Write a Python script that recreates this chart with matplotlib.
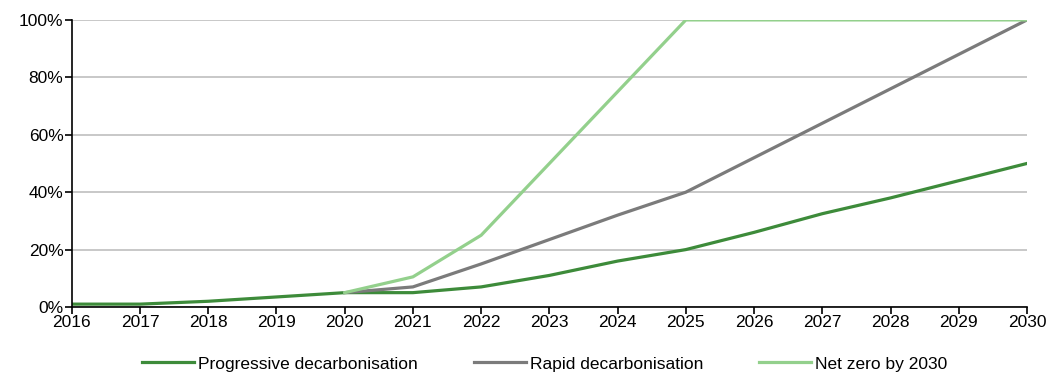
import matplotlib
matplotlib.use('Agg')
import matplotlib.pyplot as plt
from matplotlib import font_manager
from matplotlib.ticker import PercentFormatter

# Узкий шрифт, если есть; иначе обычный
names = {f.name for f in font_manager.fontManager.ttflist}
if 'Liberation Sans Narrow' in names:
    plt.rcParams['font.family'] = ['Liberation Sans Narrow', 'DejaVu Sans']
    fs = 15.5
else:
    plt.rcParams['font.family'] = ['Liberation Sans', 'DejaVu Sans']
    fs = 12.5

# Данные
years = list(range(2016, 2031))
progressive = [1, 1, 2, 3.5, 5, 5, 7, 11, 16, 20, 26, 32.5, 38, 44, 50]
rapid_years = list(range(2020, 2031))
rapid = [5, 7, 15, 23.5, 32, 40, 52, 64, 76, 88, 100]
netzero_years = list(range(2020, 2031))
netzero = [5, 10.5, 25, 50, 75, 100, 100, 100, 100, 100, 100]

labels = ['Progressive decarbonisation', 'Rapid decarbonisation', 'Net zero by 2030']
colors = ['#3D8B3A', '#7B7B7B', '#93D08C']

fig = plt.figure(figsize=(10.56, 3.76), dpi=100)
ax = fig.add_axes([0.068, 0.1835, 0.9045, 0.7635])

ax.plot(years, progressive, color=colors[0], linewidth=2.3, label=labels[0])
ax.plot(rapid_years, rapid, color=colors[1], linewidth=2.3, label=labels[1])
ax.plot(netzero_years, netzero, color=colors[2], linewidth=2.3, label=labels[2])

ax.set_xlim(2016, 2030)
ax.set_ylim(0, 100)
ax.set_xticks(years)
ax.set_yticks(range(0, 101, 20))
ax.yaxis.set_major_formatter(PercentFormatter(decimals=0))
ax.grid(axis='y', color='#BFBFBF', linewidth=1.2)
ax.set_axisbelow(True)

for side in ['top', 'right']:
    ax.spines[side].set_visible(False)
for side in ['left', 'bottom']:
    ax.spines[side].set_linewidth(1.2)
    ax.spines[side].set_color('black')

ax.tick_params(axis='both', labelsize=fs, length=5, width=1.2, direction='out', pad=1)
ax.tick_params(axis='x', pad=1)

px = fs * 100 / 72  # размер шрифта в пикселях
fig.legend(loc='center', bbox_to_anchor=(0.516, 0.032), ncol=3, frameon=False,
           fontsize=fs, handlelength=52 / px, handletextpad=4 / px,
           columnspacing=56 / px, borderpad=0)

plt.savefig('out.png', dpi=100)
plt.close()
